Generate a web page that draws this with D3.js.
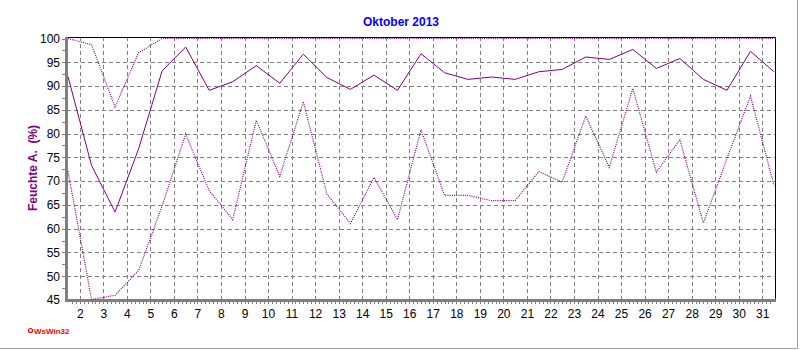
<!DOCTYPE html>
<html>
<head>
<meta charset="utf-8">
<script src="https://cdn.jsdelivr.net/npm/d3@7"></script>
<style>
  body { margin: 0; background: #fff; }
  svg { display: block; font-family: "Liberation Sans", Arial, sans-serif; }
</style>
</head>
<body>
<div id="chart"></div>
<script>
// days (values sit at noon of each day)
var days = d3.range(1, 32);
// relative humidity, October 2013
var humMax = [100, 98.7, 85.6, 97.0, 100, 100, 100, 100, 100, 100, 100, 100, 100, 100, 100, 100,
              100, 100, 100, 100, 100, 100, 100, 100, 100, 100, 100, 100, 100, 100, 100];
var humMean = [92.0, 73.3, 63.5, 76.8, 93.2, 98.2, 89.1, 90.9, 94.3, 90.6, 96.7, 91.8, 89.3, 92.3, 89.1, 96.8,
               92.8, 91.4, 91.9, 91.4, 93.0, 93.5, 96.1, 95.6, 97.7, 93.7, 95.8, 91.4, 89.1, 97.3, 93.0];
var humMin = [72.1, 45.1, 46.0, 51.2, 64.8, 79.9, 68.0, 61.9, 82.8, 71.0, 86.7, 67.3, 61.1, 70.8, 61.9, 80.8,
              67.0, 67.0, 65.9, 65.9, 72.0, 69.8, 83.7, 72.9, 89.5, 71.9, 78.7, 61.2, 74.7, 87.9, 69.1];
var yTicks = [45, 50, 55, 60, 65, 70, 75, 80, 85, 90, 95, 100];
var xTicks = d3.range(2, 32);

var W = 800, H = 350;
var pLeft = 67, pRight = 775, pTop = 37, pBottom = 300;

var x = d3.scaleLinear().domain([1.5, 31.5]).range([68, 774]);
var y = d3.scaleLinear().domain([45, 100]).range([300, 38.5]);

var svg = d3.select("#chart").append("svg")
  .attr("width", W).attr("height", H);

// outer frame
svg.append("line").attr("x1", W - 2.5).attr("x2", W - 2.5).attr("y1", 0).attr("y2", H - 1)
  .attr("stroke", "#a0a0a0");
svg.append("line").attr("x1", 0).attr("x2", W - 2).attr("y1", H - 1.5).attr("y2", H - 1.5)
  .attr("stroke", "#a0a0a0");

// title
svg.append("text")
  .attr("x", 401).attr("y", 26)
  .attr("text-anchor", "middle")
  .style("font-size", "12px").style("font-weight", "bold")
  .attr("fill", "#0000ff")
  .text("Oktober 2013");

// grid
var grid = svg.append("g").attr("stroke", "#808080").attr("stroke-dasharray", "4,3");
grid.selectAll(".gx").data(xTicks).enter().append("line")
  .attr("x1", function(d) { return Math.round(x(d)) + 0.5; })
  .attr("x2", function(d) { return Math.round(x(d)) + 0.5; })
  .attr("y1", pTop).attr("y2", pBottom);
grid.selectAll(".gy").data(yTicks.filter(function(d) { return d > 45 && d < 100; })).enter().append("line")
  .attr("x1", pLeft).attr("x2", pRight)
  .attr("y1", function(d) { return Math.round(y(d)) + 0.5; })
  .attr("y2", function(d) { return Math.round(y(d)) + 0.5; });

// top / right border
svg.append("path")
  .attr("d", "M" + pLeft + "," + (pTop + 0.5) + "H" + (pRight + 0.5) + "V" + pBottom)
  .attr("fill", "none").attr("stroke", "#000");

// axes
var yAxis = svg.append("g").attr("transform", "translate(" + (pLeft - 1) + ",0)")
  .call(d3.axisLeft(y).tickValues(yTicks).tickSize(0).tickPadding(6));
yAxis.select(".domain").remove();
yAxis.selectAll("text").style("font-size", "12px").style("font-family", "Liberation Sans, Arial, sans-serif")
  .attr("fill", "#000");

var xAxis = svg.append("g").attr("transform", "translate(0," + (pBottom + 1) + ")")
  .call(d3.axisBottom(x).tickValues(xTicks).tickSize(0).tickPadding(8).tickFormat(d3.format("d")));
xAxis.select(".domain").remove();
xAxis.selectAll("text").style("font-size", "12px").style("font-family", "Liberation Sans, Arial, sans-serif")
  .attr("fill", "#000");

// minor ticks
var minorX = d3.range(1.5 + 1 / 6, 31.5, 1 / 6);
svg.append("g").attr("stroke", "#808080").selectAll("line").data(minorX).enter().append("line")
  .attr("x1", function(d) { return Math.round(x(d)) + 0.5; })
  .attr("x2", function(d) { return Math.round(x(d)) + 0.5; })
  .attr("y1", pBottom + 1).attr("y2", pBottom + 4);
var minorY = d3.range(47.5, 100.1, 2.5);
svg.append("g").attr("stroke", "#808080").selectAll("line").data(minorY).enter().append("line")
  .attr("x1", pLeft - 5).attr("x2", pLeft - 1)
  .attr("y1", function(d) { return Math.round(y(d)) + 0.5; })
  .attr("y2", function(d) { return Math.round(y(d)) + 0.5; });

svg.append("line").attr("x1", pLeft - 0.5).attr("x2", pLeft - 0.5).attr("y1", pTop).attr("y2", pBottom + 2)
  .attr("stroke", "#808080").attr("stroke-width", 3);
svg.append("line").attr("x1", pLeft - 2).attr("x2", pRight + 1).attr("y1", pBottom + 0.5).attr("y2", pBottom + 0.5)
  .attr("stroke", "#808080").attr("stroke-width", 3);

// y axis label
svg.append("text")
  .attr("transform", "translate(37,168) rotate(-90)")
  .attr("text-anchor", "middle")
  .style("font-size", "12px").style("font-weight", "bold")
  .attr("fill", "#800080")
  .attr("xml:space", "preserve")
  .text("Feuchte A.  (%)");

// series
var line = function(vals) {
  return d3.line()
    .x(function(d, i) { return x(days[i] + 0.5); })
    .y(function(d) { return y(d); })(vals);
};
svg.append("path").attr("d", line(humMin))
  .attr("fill", "none").attr("stroke", "#800080").attr("stroke-width", 1.2).attr("stroke-dasharray", "1,1.2");
svg.append("path").attr("d", line(humMax))
  .attr("fill", "none").attr("stroke", "#800080").attr("stroke-width", 1.2).attr("stroke-dasharray", "1,1.2");
svg.append("path").attr("d", line(humMean))
  .attr("fill", "none").attr("stroke", "#800080").attr("stroke-width", 1);

// logo
svg.append("circle").attr("cx", 30.5).attr("cy", 330.5).attr("r", 2)
  .attr("fill", "none").attr("stroke", "#ff0000").attr("stroke-width", 1.2);
svg.append("text")
  .attr("x", 34).attr("y", 333.5)
  .style("font-size", "8px").style("font-weight", "bold")
  .attr("fill", "#ff0000")
  .text("WsWin32");
</script>
</body>
</html>
